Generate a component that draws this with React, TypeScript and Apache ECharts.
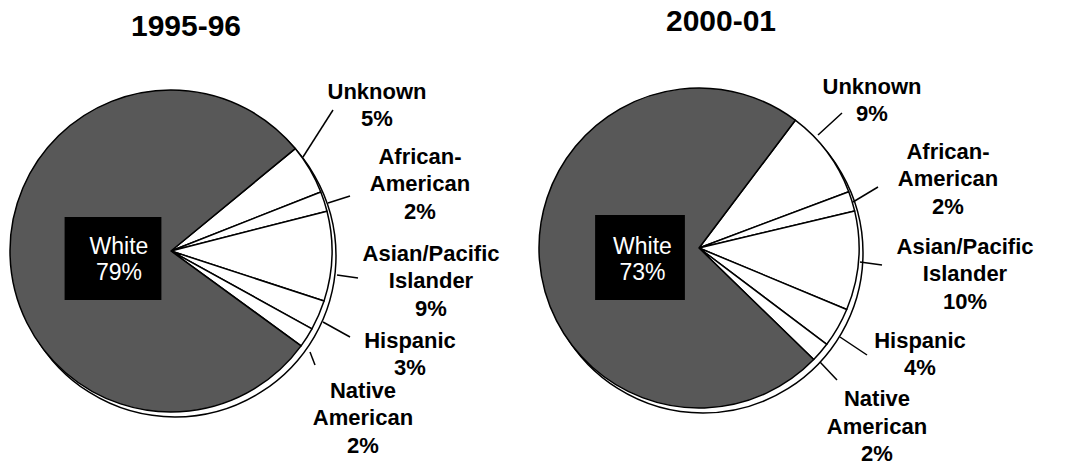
import React, { useEffect, useRef } from "react";
import * as echarts from "echarts";

// ---- data ----
const categories = [
  "Unknown",
  "African-\nAmerican",
  "Asian/Pacific\nIslander",
  "Hispanic",
  "Native\nAmerican",
  "White",
];
const values1995 = [5, 2, 9, 3, 2, 79];
const values2000 = [9, 2, 10, 4, 2, 73];
const titles = ["1995-96", "2000-01"];

// ---- layout (positions only) ----
const pieLayout = [
  { center: [171, 251], radius: 161, startAngle: 39.5, shadow: [175, 256], titleX: 186, titleTop: 10 },
  { center: [699, 248], radius: 160, startAngle: 53, shadow: [703, 253], titleX: 721, titleTop: 5 },
];
const labelAnchors = [
  [[377, 77.5], [420, 142.5], [431, 239.5], [410, 326.5], [363, 376.5]],
  [[872, 72.5], [948, 137.5], [965, 232.5], [920, 326.5], [877, 385]],
];
const leaderLines = [
  [
    [[303, 157], [333, 110]],
    [[328, 203], [350, 196]],
    [[337, 275], [358, 278]],
    [[323, 322], [350, 337]],
    [[310, 352], [315, 365]],
  ],
  [
    [[818, 135], [842, 113]],
    [[853, 202], [878, 187]],
    [[860, 262], [882, 265]],
    [[840, 337], [867, 355]],
    [[820, 362], [837, 380]],
  ],
];
const whiteBoxes = [
  { cx: 113, y: 217, padding: [15.5, 13, 15.5, 25] },
  { cx: 640, y: 215, padding: [17.5, 13, 15.5, 18] },
];

const FONT = "'Liberation Sans', Arial, Helvetica, sans-serif";
const GRAY = "#585858";

function buildSeries(values: number[], k: number) {
  const L = pieLayout[k];
  const whiteIdx = categories.length - 1;
  const data = categories.map((name, i) => {
    const isWhite = i === whiteIdx;
    return {
      name,
      value: values[i],
      itemStyle: { color: isWhite ? GRAY : "#ffffff" },
      label: isWhite
        ? {
            color: "#ffffff",
            fontWeight: "normal",
            fontSize: 23,
            lineHeight: 26,
            backgroundColor: "#000000",
            padding: whiteBoxes[k].padding,
          }
        : undefined,
      labelLine: isWhite ? { show: false } : undefined,
    };
  });
  return [
    {
      type: "pie",
      z: 1,
      silent: true,
      center: L.shadow,
      radius: L.radius,
      data: [{ value: 1, name: "edge" }],
      itemStyle: { color: "#ffffff", borderColor: "#000000", borderWidth: 1.5 },
      label: { show: false },
      labelLine: { show: false },
      emphasis: { disabled: true },
    },
    {
      type: "pie",
      z: 2,
      silent: true,
      center: L.center,
      radius: L.radius,
      startAngle: L.startAngle,
      clockwise: true,
      avoidLabelOverlap: false,
      data,
      itemStyle: { borderColor: "#000000", borderWidth: 1.5 },
      emphasis: { disabled: true },
      label: {
        show: true,
        position: "outside",
        formatter: (p: any) => `${p.name}\n${p.value}%`,
        color: "#000000",
        fontFamily: FONT,
        fontWeight: "bold",
        fontSize: 22,
        lineHeight: 27.5,
        align: "center",
      },
      labelLine: {
        show: true,
        length: 10,
        length2: 0,
        lineStyle: { color: "#000000", width: 1.5 },
      },
      labelLayout: (p: any) => {
        const i = p.dataIndex;
        if (i === whiteIdx) {
          return { x: whiteBoxes[k].cx, y: whiteBoxes[k].y, align: "center", verticalAlign: "top" };
        }
        const [x, y] = labelAnchors[k][i];
        const [a, b] = leaderLines[k][i];
        const mid = [(a[0] + b[0]) / 2, (a[1] + b[1]) / 2];
        return { x, y, align: "center", verticalAlign: "top", labelLinePoints: [a, mid, b] };
      },
    },
  ];
}

export default function App() {
  const ref = useRef<HTMLDivElement>(null);
  useEffect(() => {
    document.body.style.margin = "0";
    if (!ref.current) return;
    const chart = echarts.init(ref.current, null, { renderer: "svg" });
    chart.setOption({
      animation: false,
      backgroundColor: "#ffffff",
      textStyle: { fontFamily: FONT },
      title: titles.map((t, k) => ({
        text: t,
        left: pieLayout[k].titleX,
        top: pieLayout[k].titleTop,
        textAlign: "center",
        padding: 0,
        textStyle: { fontFamily: FONT, fontWeight: "bold", fontSize: 30, color: "#000000" },
      })),
      series: [...buildSeries(values1995, 0), ...buildSeries(values2000, 1)],
    });
    return () => chart.dispose();
  }, []);
  return <div ref={ref} style={{ width: 1071, height: 465 }} />;
}
